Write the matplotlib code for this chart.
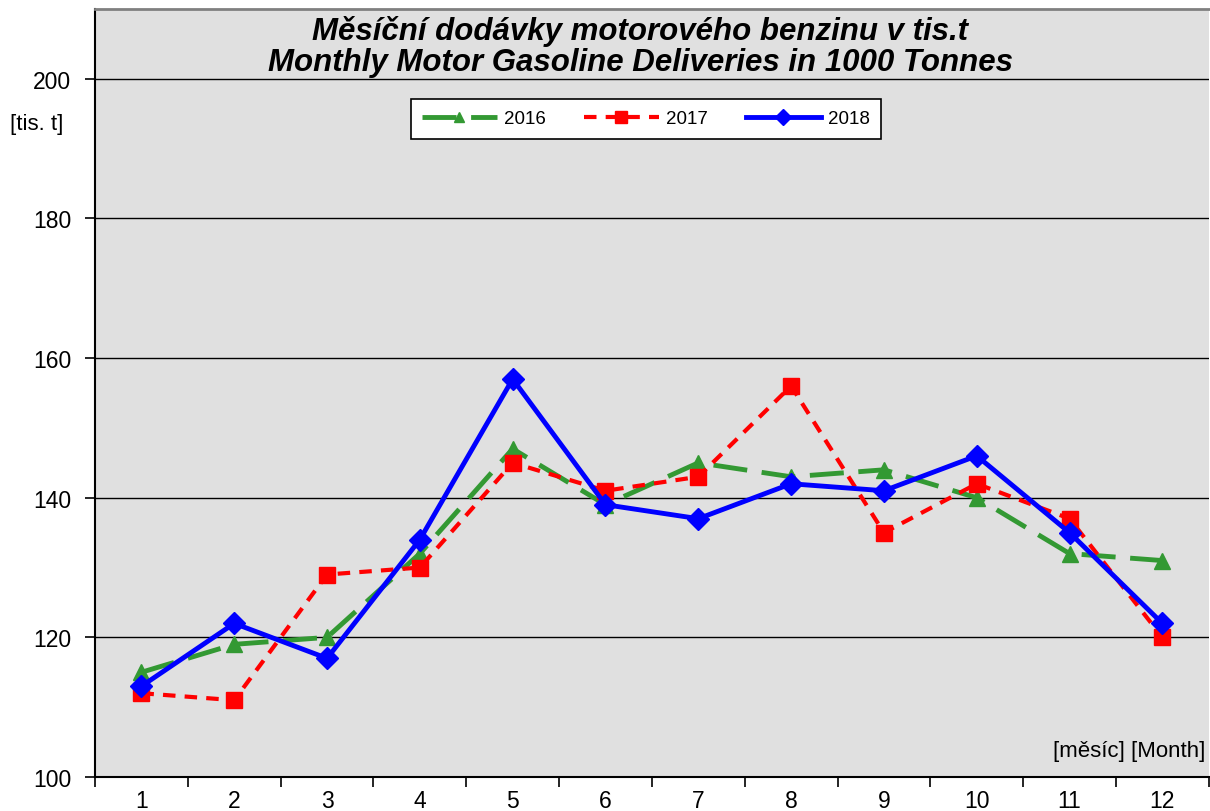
import numpy as np
import matplotlib
matplotlib.use("Agg")
import matplotlib.pyplot as plt

plt.rcParams['font.family'] = ['Liberation Sans', 'DejaVu Sans']

# data
mesice = list(range(1, 13))
rok_2016 = [115, 119, 120, 132, 147, 139, 145, 143, 144, 140, 132, 131]
rok_2017 = [112, 111, 129, 130, 145, 141, 143, 156, 135, 142, 137, 120]
rok_2018 = [113, 122, 117, 134, 157, 139, 137, 142, 141, 146, 135, 122]
y_ticks = [100, 120, 140, 160, 180, 200]

# %%

fig = plt.figure(figsize=(12.1, 8.12), dpi=100)
ax = fig.add_axes([95 / 1210, 1 - 778 / 812, 1 - 95 / 1210 - 0.001, (778 - 10) / 812])
ax.set_facecolor("#e0e0e0")

ax.plot(mesice, rok_2016, color="#339933", lw=3.5, dashes=(7, 3),
        marker="^", ms=11, label="2016", zorder=3)
ax.plot(mesice, rok_2017, color="#ff0000", lw=3, dashes=(3, 2.2),
        marker="s", ms=12, label="2017", zorder=4)
ax.plot(mesice, rok_2018, color="#0000ff", lw=3.5, ls="-",
        marker="D", ms=11, label="2018", zorder=5)

ax.set_xlim(0.5, 12.5)
ax.set_ylim(100, 210)
ax.set_yticks(y_ticks)
ax.set_yticklabels([str(v) for v in y_ticks], fontsize=16.5)
ax.yaxis.grid(True, color="black", lw=1)
ax.set_axisbelow(True)

# x ticks on category boundaries, labels in the middle
ax.set_xticks(np.arange(0.5, 13, 1))
ax.set_xticklabels([])
ax.set_xticks(mesice, minor=True)
ax.set_xticklabels([str(m) for m in mesice], minor=True, fontsize=16.5)
ax.tick_params(axis="x", which="minor", length=0, pad=9)
ax.tick_params(axis="x", which="major", length=7, width=1.2, direction="out")
ax.tick_params(axis="y", length=7, width=1.2, direction="out", pad=10)

for s in ["left", "bottom"]:
    ax.spines[s].set_linewidth(1.5)
    ax.spines[s].set_color("black")
ax.spines["top"].set_color("#808080")
ax.spines["top"].set_linewidth(2)
ax.spines["right"].set_visible(False)

fig.text(640 / 1210, 1 - 47 / 812,
         "Měsíční dodávky motorového benzinu v tis.t\nMonthly Motor Gasoline Deliveries in 1000 Tonnes",
         ha="center", va="center", fontsize=22.5, fontweight="bold", style="italic",
         linespacing=1.05)

fig.text(10 / 1210, 1 - 125 / 812, "[tis. t]", ha="left", va="center", fontsize=16)
ax.text(0.997, 1 - (752 - 10) / 768, "[měsíc] [Month]", transform=ax.transAxes,
        ha="right", va="center", fontsize=16)

leg = ax.legend(loc="upper left", bbox_to_anchor=((411 - 95) / 1115, 1 - (100 - 10) / 768),
                borderaxespad=0, ncol=3, fontsize=13.5, frameon=True, fancybox=False,
                handlelength=4.0, handletextpad=0.4, columnspacing=2.0, borderpad=0.6,
                markerscale=0.7)
leg.get_frame().set_edgecolor("black")
leg.get_frame().set_facecolor("white")
leg.get_frame().set_linewidth(1.2)
leg.get_frame().set_alpha(1)

fig.savefig("out.png", dpi=100)
